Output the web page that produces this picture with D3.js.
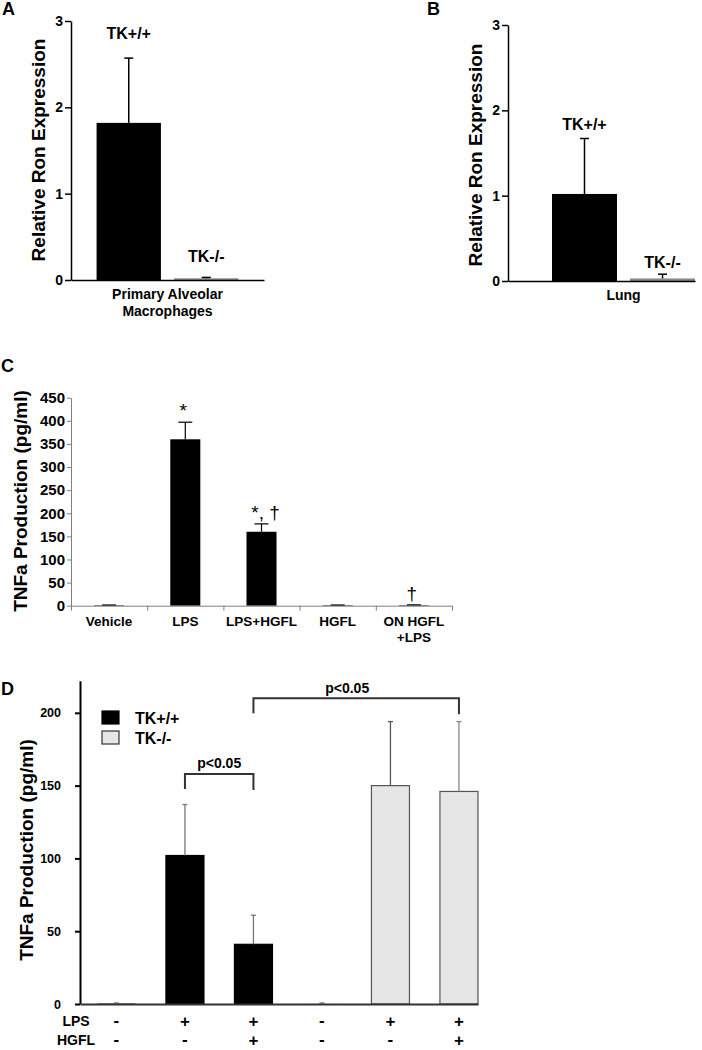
<!DOCTYPE html>
<html>
<head>
<meta charset="utf-8">
<script src="https://cdn.jsdelivr.net/npm/d3@7"></script>
<style>
    body { margin: 0; background: #fff; }
    svg { display: block; font-family: "Liberation Sans", Arial, sans-serif; }
</style>
</head>
<body>
<svg id="fig" width="702" height="1050"></svg>
<script>
// ---- panel A / B : relative Ron expression ----
var ronGroups = ["TK+/+", "TK-/-"];
var ronTicks = [0, 1, 2, 3];
var macrophageValues = [1.82, 0.02];
var macrophageErrors = [0.75, 0.01];
var lungValues = [1.02, 0.03];
var lungErrors = [0.65, 0.05];

// ---- panel C : TNFa production ----
var tnfCategories = ["Vehicle", "LPS", "LPS+HGFL", "HGFL", "ON HGFL+LPS"];
var tnfCategoryLines = [["Vehicle"], ["LPS"], ["LPS+HGFL"], ["HGFL"], ["ON HGFL", "+LPS"]];
var tnfValues = [1, 360, 160, 1, 1];
var tnfErrors = [0.5, 37, 17, 0.5, 0.8];
var tnfMarks = ["", "*", "*, \u2020", "", "\u2020"];
var tnfTicks = [0, 50, 100, 150, 200, 250, 300, 350, 400, 450];

// ---- panel D : TNFa by genotype ----
var genotypes = ["TK+/+", "TK-/-"];
var dGenotype = ["TK+/+", "TK+/+", "TK+/+", "TK-/-", "TK-/-", "TK-/-"];
var dLps = ["-", "+", "+", "-", "+", "+"];
var dHgfl = ["-", "-", "+", "-", "-", "+"];
var dValues = [0.3, 102, 41, 0.3, 150, 146];
var dErrors = [0.4, 35, 20, 0.4, 44, 48];
var dTicks = [0, 50, 100, 150, 200];
var bracketFrom = [1, 2];
var bracketTo = [2, 5];
var bracketLevel = [158, 210];
var bracketText = ["p<0.05", "p<0.05"];

var svg = d3.select("#fig");

function panelLetter(txt, x, y) {
    svg.append("text").attr("x", x).attr("y", y)
        .style("font-size", "18px").style("font-weight", "bold").text(txt);
}

function styleAxis(sel, color, width, fontSize) {
    sel.select(".domain").attr("stroke", color).attr("stroke-width", width);
    sel.selectAll(".tick line").attr("stroke", color).attr("stroke-width", width);
    sel.selectAll(".tick text")
        .attr("fill", "#000")
        .style("font-size", fontSize)
        .style("font-weight", "bold")
        .style("font-family", "'Liberation Sans', Arial, sans-serif");
}

function yLabel(txt, x, y) {
    svg.append("text")
        .attr("transform", "translate(" + x + "," + y + ") rotate(-90)")
        .attr("text-anchor", "middle")
        .style("font-size", "19px").style("font-weight", "bold")
        .text(txt);
}

// A and B share the same layout
function drawRonPanel(cfg) {
    var y = d3.scaleLinear().domain([0, 3]).range([cfg.y0, cfg.y3]);
    var x = d3.scaleBand().domain(ronGroups)
        .range([cfg.left, cfg.right])
        .paddingInner(cfg.padIn).paddingOuter(cfg.padOut).align(cfg.align);

    var bars = svg.append("g");
    bars.selectAll("rect").data(cfg.values).enter().append("rect")
        .attr("x", function(d, i) { return x(ronGroups[i]); })
        .attr("y", function(d) { return y(d); })
        .attr("width", x.bandwidth())
        .attr("height", function(d) { return cfg.y0 - y(d); })
        .attr("fill", function(d, i) { return i === 0 ? "#000" : "#8a8a8a"; });

    // error bars (up only)
    cfg.values.forEach(function(v, i) {
        var cx = x(ronGroups[i]) + x.bandwidth() / 2;
        var top = y(v + cfg.errors[i]);
        bars.append("line").attr("x1", cx).attr("x2", cx)
            .attr("y1", y(v)).attr("y2", top)
            .attr("stroke", "#000").attr("stroke-width", 1.5);
        bars.append("line").attr("x1", cx - 4.5).attr("x2", cx + 4.5)
            .attr("y1", top).attr("y2", top)
            .attr("stroke", "#000").attr("stroke-width", 1.5);
        bars.append("text").attr("x", cx).attr("y", top - cfg.labelGap[i])
            .attr("text-anchor", "middle")
            .style("font-size", "16px").style("font-weight", "bold")
            .text(ronGroups[i]);
    });

    var ya = svg.append("g").attr("transform", "translate(" + cfg.left + ",0)")
        .call(d3.axisLeft(y).tickValues(ronTicks).tickFormat(d3.format("d"))
            .tickSize(6).tickSizeOuter(0).tickPadding(2));
    styleAxis(ya, "#000", 1.5, "14px");

    var xs = d3.scaleLinear().range([cfg.left, cfg.right]);
    var xa = svg.append("g").attr("transform", "translate(0," + cfg.y0 + ")")
        .call(d3.axisBottom(xs).tickValues([]).tickSizeOuter(0));
    styleAxis(xa, "#000", 1.5, "14px");

    cfg.xLabel.forEach(function(t, i) {
        svg.append("text").attr("x", (cfg.left + cfg.right) / 2 + cfg.xLabelShift)
            .attr("y", cfg.y0 + 19 + i * 17)
            .attr("text-anchor", "middle")
            .style("font-size", "14px").style("font-weight", "bold")
            .text(t);
    });
}

panelLetter("A", 2, 15);
drawRonPanel({
    y0: 280, y3: 21, left: 71, right: 264,
    padIn: 0.17, padOut: 0.33, align: 0.5,
    values: macrophageValues, errors: macrophageErrors,
    labelGap: [19, 15],
    xLabel: ["Primary Alveolar", "Macrophages"], xLabelShift: 0
});
yLabel("Relative Ron Expression", 45, 150);

panelLetter("B", 427, 15);
drawRonPanel({
    y0: 281, y3: 25, left: 508, right: 695,
    padIn: 0.167, padOut: 0.282, align: 1,
    values: lungValues, errors: lungErrors,
    labelGap: [8, 6],
    xLabel: ["Lung"], xLabelShift: 22
});
yLabel("Relative Ron Expression", 482, 155);

// ---- panel C ----
(function() {
    var y0 = 605.7, left = 71, right = 452;
    var y = d3.scaleLinear().domain([0, 450]).range([y0, 397.7]);
    var x = d3.scaleBand().domain(tnfCategories).range([left, right])
        .paddingInner(0.606).paddingOuter(0.303);

    panelLetter("C", 1, 372);

    var g = svg.append("g");
    g.selectAll("rect").data(tnfValues).enter().append("rect")
        .attr("x", function(d, i) { return x(tnfCategories[i]); })
        .attr("y", function(d) { return y(d); })
        .attr("width", x.bandwidth())
        .attr("height", function(d) { return y0 - y(d); })
        .attr("fill", "#000");

    tnfValues.forEach(function(v, i) {
        var cx = x(tnfCategories[i]) + x.bandwidth() / 2;
        var top = y(v + tnfErrors[i]);
        g.append("line").attr("x1", cx).attr("x2", cx).attr("y1", y(v)).attr("y2", top)
            .attr("stroke", "#000").attr("stroke-width", 1.2);
        g.append("line").attr("x1", cx - 7).attr("x2", cx + 7).attr("y1", top).attr("y2", top)
            .attr("stroke", "#000").attr("stroke-width", 1.2);
        if (tnfMarks[i]) {
            g.append("text").attr("x", cx + (tnfMarks[i].length > 1 ? 4 : -2)).attr("y", top - 5)
                .attr("text-anchor", "middle")
                .style("font-size", "19px")
                .text(tnfMarks[i]);
        }
    });

    var ya = svg.append("g").attr("transform", "translate(" + left + ",0)")
        .call(d3.axisLeft(y).tickValues(tnfTicks).tickSize(4).tickSizeOuter(0).tickPadding(2));
    styleAxis(ya, "#808080", 1, "15px");

    // category boundaries carry the ticks
    var xb = d3.scaleLinear().domain([0, tnfCategories.length]).range([left, right]);
    var xa = svg.append("g").attr("transform", "translate(0," + y0 + ")")
        .call(d3.axisBottom(xb).ticks(tnfCategories.length).tickFormat("").tickSize(5).tickSizeOuter(0));
    styleAxis(xa, "#808080", 1, "13px");

    tnfCategoryLines.forEach(function(lines, i) {
        var cx = x(tnfCategories[i]) + x.bandwidth() / 2;
        lines.forEach(function(t, k) {
            svg.append("text").attr("x", cx).attr("y", 626 + k * 16)
                .attr("text-anchor", "middle")
                .style("font-size", "13.5px").style("font-weight", "bold")
                .text(t);
        });
    });

    yLabel("TNFa Production (pg/ml)", 27, 501);
})();

// ---- panel D ----
(function() {
    var y0 = 1004, left = 80;
    var keys = dValues.map(function(d, i) { return String(i); });
    var y = d3.scaleLinear().domain([0, 222]).range([y0, 680.8]);
    var x = d3.scaleBand().domain(keys).range([82.2, 493.2])
        .paddingInner(0.445).paddingOuter(0.2225);
    var fill = d3.scaleOrdinal().domain(genotypes).range(["#000", "#e6e6e6"]);
    var edge = d3.scaleOrdinal().domain(genotypes).range(["#000", "#555"]);
    var errColor = ["#777", "#777", "#777", "#777", "#555", "#888"];

    panelLetter("D", 1, 695);

    var g = svg.append("g");
    g.selectAll("rect").data(dValues).enter().append("rect")
        .attr("x", function(d, i) { return x(keys[i]); })
        .attr("y", function(d) { return y(d); })
        .attr("width", x.bandwidth())
        .attr("height", function(d) { return y0 - y(d); })
        .attr("fill", function(d, i) { return fill(dGenotype[i]); })
        .attr("stroke", function(d, i) { return d > 1 ? edge(dGenotype[i]) : "none"; })
        .attr("stroke-width", 1.2);

    dValues.forEach(function(v, i) {
        var cx = x(keys[i]) + x.bandwidth() / 2;
        var top = y(v + dErrors[i]);
        g.append("line").attr("x1", cx).attr("x2", cx).attr("y1", y(v)).attr("y2", top)
            .attr("stroke", errColor[i]).attr("stroke-width", 1.3);
        g.append("line").attr("x1", cx - 2.5).attr("x2", cx + 2.5).attr("y1", top).attr("y2", top)
            .attr("stroke", errColor[i]).attr("stroke-width", 1.3);
    });

    var ya = svg.append("g").attr("transform", "translate(" + left + ",0)")
        .call(d3.axisLeft(y).tickValues(dTicks).tickSize(5).tickSizeOuter(0).tickPadding(14));
    styleAxis(ya, "#000", 2, "12.5px");

    var xs = d3.scaleLinear().range([left, x(keys[5]) + x.bandwidth()]);
    var xa = svg.append("g").attr("transform", "translate(0," + y0 + ")")
        .call(d3.axisBottom(xs).tickValues([]).tickSizeOuter(0));
    styleAxis(xa, "#333", 2, "12px");

    // significance brackets
    bracketFrom.forEach(function(f, i) {
        var x1 = x(keys[f]) + x.bandwidth() / 2;
        var x2 = x(keys[bracketTo[i]]) + x.bandwidth() / 2;
        var yl = y(bracketLevel[i]);
        svg.append("path")
            .attr("d", "M" + x1 + "," + (yl + 15) + "V" + yl + "H" + x2 + "V" + (yl + 16))
            .attr("fill", "none").attr("stroke", "#333").attr("stroke-width", 2);
        svg.append("text").attr("x", (x1 + x2) / 2 - (i ? 9 : 0)).attr("y", yl - 5.5)
            .attr("text-anchor", "middle")
            .style("font-size", "14px").style("font-weight", "bold")
            .text(bracketText[i]);
    });

    // legend
    genotypes.forEach(function(gt, i) {
        svg.append("rect").attr("x", 102).attr("y", 711 + i * 20)
            .attr("width", 17).attr("height", 13)
            .attr("fill", fill(gt)).attr("stroke", i ? "#333" : "#000").attr("stroke-width", 1.2);
        svg.append("text").attr("x", 135).attr("y", 723.5 + i * 20)
            .style("font-size", "16px").style("font-weight", "bold")
            .text(gt);
    });

    // treatment rows
    var rows = [["LPS", dLps, 1026], ["HGFL", dHgfl, 1045]];
    rows.forEach(function(r) {
        svg.append("text").attr("x", 76).attr("y", r[2])
            .attr("text-anchor", "middle")
            .style("font-size", "14px").style("font-weight", "bold")
            .text(r[0]);
        r[1].forEach(function(s, i) {
            svg.append("text").attr("x", x(keys[i]) + x.bandwidth() / 2).attr("y", r[2] + (s === "+" ? 1 : 0))
                .attr("text-anchor", "middle")
                .style("font-size", "17px").style("font-weight", "bold")
                .text(s);
        });
    });

    yLabel("TNFa Production (pg/ml)", 33, 850);
})();
</script>
</body>
</html>
